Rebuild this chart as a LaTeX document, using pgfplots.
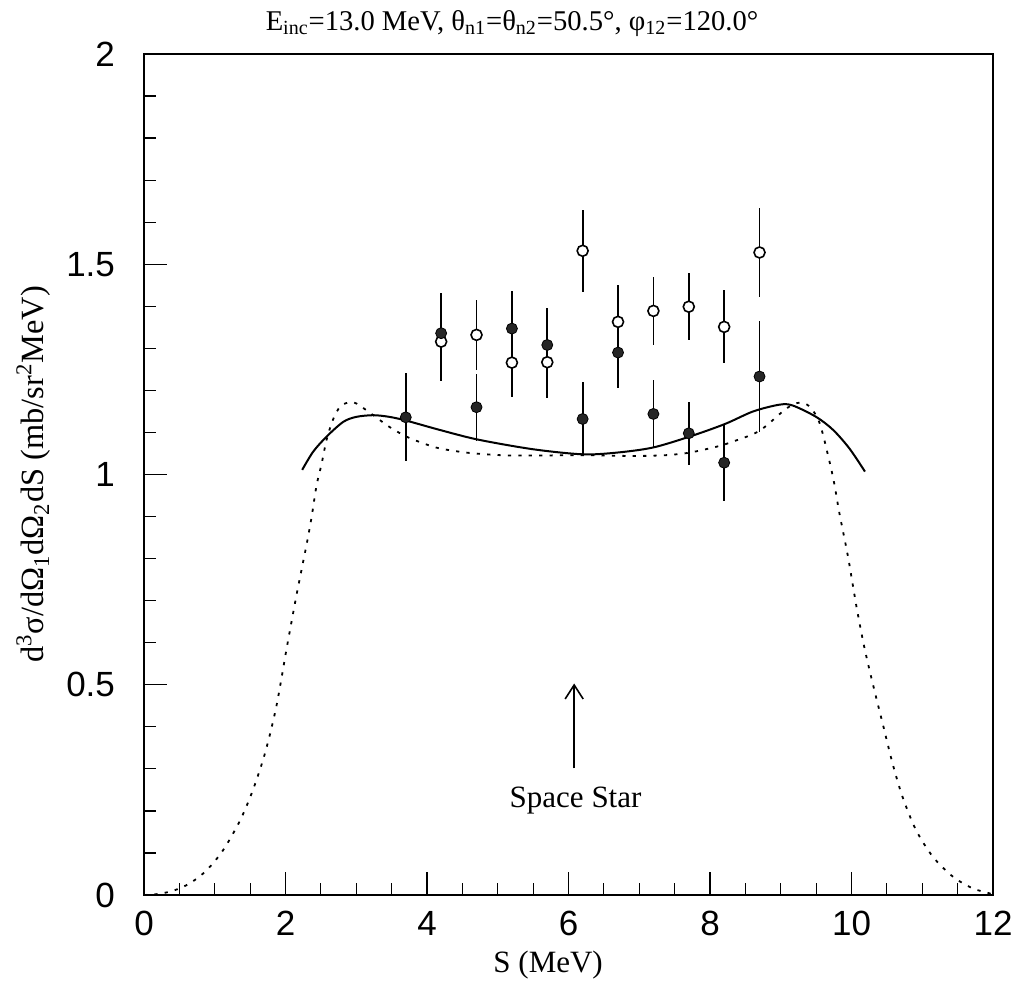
\documentclass[border=0pt]{standalone}
\usepackage{fontspec}
\setmainfont{Liberation Serif}
\setsansfont{Liberation Sans}
\usepackage{pgfplots}
\usepackage{pgfplotstable}
\pgfplotsset{compat=1.18}
\usetikzlibrary{arrows.meta}

\pgfplotstableread{
x y e
3.7 1.136 0.105
4.2 1.336 0.095
4.7 1.160 0.080
5.2 1.347 0.090
5.7 1.308 0.087
6.2 1.132 0.087
6.7 1.290 0.085
7.2 1.144 0.081
7.7 1.098 0.075
8.2 1.028 0.090
8.7 1.233 0.133
}\filled

\pgfplotstableread{
x y e
4.2 1.316 0.093
4.7 1.332 0.083
5.2 1.266 0.082
5.7 1.267 0.086
6.2 1.532 0.097
6.7 1.363 0.088
7.2 1.389 0.081
7.7 1.399 0.080
8.2 1.351 0.087
8.7 1.528 0.105
}\open

\pgfplotstableread{
x y
2.236 1.011
2.39 1.054
2.58 1.090
2.815 1.125
3.00 1.137
3.24 1.141
3.47 1.137
3.71 1.128
4.18 1.106
4.72 1.083
5.5 1.060
6.2 1.048
6.68 1.052
7.19 1.064
7.71 1.090
8.21 1.120
8.61 1.150
8.98 1.166
9.17 1.164
9.50 1.137
9.74 1.106
9.97 1.062
10.19 1.007
}\solid

\pgfplotstableread{
x y
0.0 0.0
0.18 0.002
0.41 0.010
0.65 0.028
0.886 0.059
1.12 0.107
1.36 0.178
1.54 0.250
1.71 0.337
1.87 0.448
2.02 0.590
2.16 0.717
2.30 0.835
2.37 0.900
2.44 0.975
2.51 1.025
2.58 1.082
2.67 1.130
2.77 1.161
2.885 1.171
3.00 1.169
3.24 1.141
3.47 1.113
3.71 1.090
3.95 1.074
4.18 1.062
4.56 1.052
5.03 1.046
5.5 1.045
6.2 1.046
6.91 1.044
7.38 1.046
7.71 1.052
8.09 1.066
8.32 1.078
8.70 1.104
9.08 1.157
9.27 1.171
9.41 1.161
9.55 1.122
9.69 1.030
9.76 0.975
9.83 0.907
9.95 0.805
10.07 0.686
10.18 0.590
10.30 0.503
10.44 0.408
10.58 0.313
10.72 0.234
10.91 0.155
11.15 0.091
11.43 0.044
11.71 0.016
11.95 0.004
12.0 0.0
}\dotted

\begin{document}
\begin{tikzpicture}
\begin{axis}[
  width=424.5pt, height=420.5pt, scale only axis,
  xmin=0, xmax=12, ymin=0, ymax=2,
  xtick={0,2,...,12}, ytick={0,0.5,1,1.5,2},
  minor x tick num=3, minor y tick num=4,
  xtick pos=left, ytick pos=left,
  tick align=inside,
  major tick length=11.5pt, minor tick length=6pt,
  tick style={line width=0.6pt, black},
  axis line style={line width=1pt},
  /pgf/number format/assume math mode=true,
  ticklabel style={font=\sffamily\fontsize{17.5}{18}\selectfont},
  xticklabel style={yshift=-4.5pt},
  yticklabel style={xshift=-11pt},
  title={E\textsubscript{inc}=13.0 MeV, θ\textsubscript{n1}=θ\textsubscript{n2}=50.5°, φ\textsubscript{12}=120.0°},
  title style={font=\fontsize{14.3}{15}\selectfont, at={(axis description cs:0.4335,1.0285)}, anchor=base, yshift=-6pt, inner sep=0pt},
  xlabel={S (MeV)},
  xlabel style={font=\fontsize{15.5}{16}\selectfont, at={(axis description cs:0.476,-0.0832)}, anchor=center},
  ylabel={d\textsuperscript{3}σ/dΩ\textsubscript{1}dΩ\textsubscript{2}dS (mb/sr\textsuperscript{2}MeV)},
  ylabel style={font=\fontsize{16.2}{17}\selectfont, at={(axis description cs:-0.13,0.5)}, anchor=center},
]
\addplot[black, line width=0.9pt, dash pattern=on 1.6pt off 3.6pt, smooth] table[x=x,y=y] {\dotted};
\addplot[black, line width=1pt, smooth] table[x=x,y=y] {\solid};
\addplot[black, only marks, mark=*, mark size=2.75pt, mark options={fill=white, draw=black, line width=0.8pt},
  error bars/.cd, y dir=both, y explicit, error mark=none, error bar style={line width=0.9pt, black}]
  table[x=x, y=y, y error=e] {\open};
\addplot[black, only marks, mark=*, mark size=2.75pt, mark options={fill=black!85, draw=black},
  error bars/.cd, y dir=both, y explicit, error mark=none, error bar style={line width=0.9pt, black}]
  table[x=x, y=y, y error=e] {\filled};
\draw[line width=0.8pt, -{Straight Barb[length=7pt, width=9pt]}] (axis cs:6.08,0.301) -- (axis cs:6.08,0.503);
\node[font=\fontsize{15.5}{16}\selectfont] at (axis cs:6.1,0.225) {Space Star};
\end{axis}
\pgfresetboundingbox
\path ([shift={(-72pt,-47pt)}]current axis.south west) rectangle ([shift={(11pt,27pt)}]current axis.north east);
\end{tikzpicture}
\end{document}
